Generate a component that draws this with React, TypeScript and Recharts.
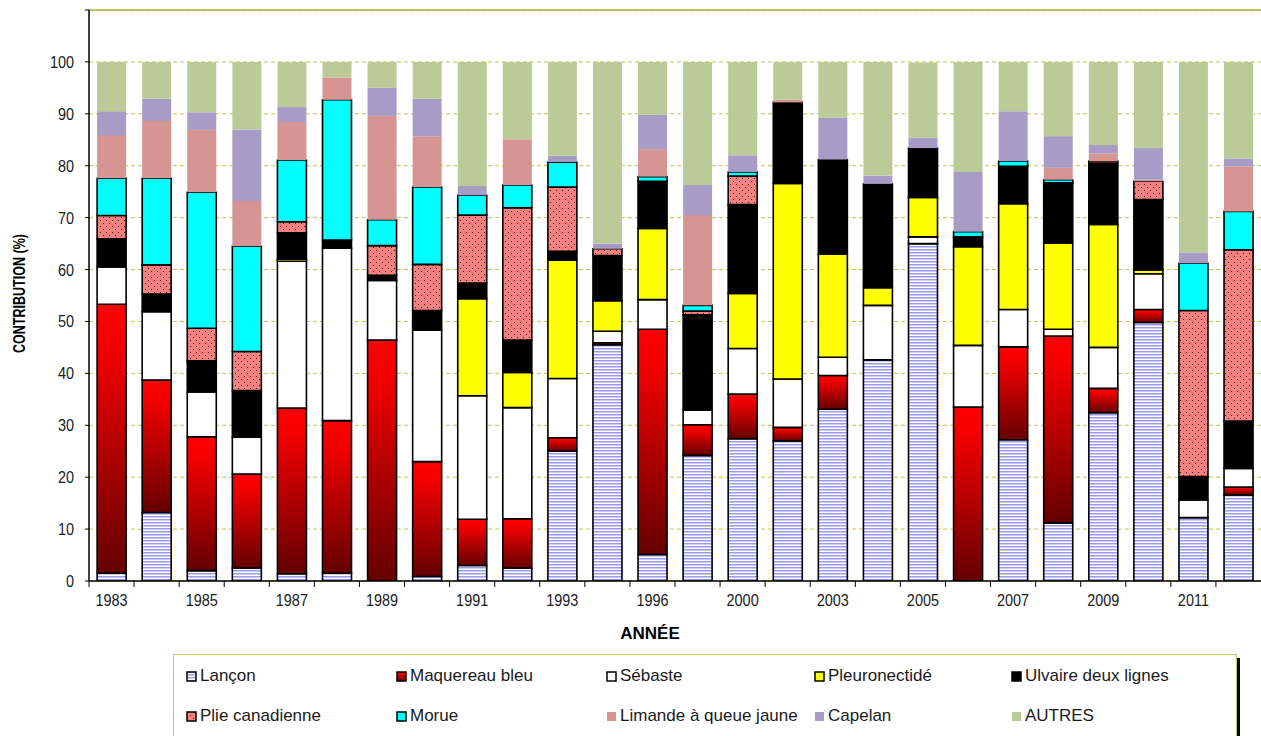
import React from 'react';
import { BarChart, Bar, XAxis, YAxis, CartesianGrid, ReferenceLine } from 'recharts';

const years = ['1983', '1984', '1985', '1986', '1987', '1988', '1989', '1990', '1991', '1992', '1993', '1995', '1996', '1998', '2000', '2002', '2003', '2004', '2005', '2006', '2007', '2008', '2009', '2010', '2011', '2012'];

const lancon = [1.5, 13.2, 2.0, 2.5, 1.4, 1.5, 0, 0.9, 3.0, 2.5, 25.0, 45.5, 5.1, 24.2, 27.4, 27.0, 33.1, 42.6, 65.0, 0, 27.2, 11.2, 32.4, 49.8, 12.2, 16.6];
const maquereau = [51.8, 25.5, 25.8, 18.1, 31.9, 29.4, 46.4, 22.1, 8.9, 9.5, 2.6, 0.4, 43.4, 5.9, 8.6, 2.6, 6.5, 0, 0, 33.5, 17.9, 36.0, 4.7, 2.5, 0, 1.5];
const sebaste = [7.2, 13.2, 8.6, 7.1, 28.3, 33.2, 11.5, 25.3, 23.8, 21.4, 11.4, 2.2, 5.7, 2.8, 8.8, 9.3, 3.5, 10.5, 1.3, 11.9, 7.2, 1.3, 7.9, 6.9, 3.4, 3.6];
const pleuronectide = [0, 0, 0, 0, 0.4, 0, 0, 0, 18.7, 6.8, 22.8, 5.9, 13.7, 0, 10.6, 37.7, 19.9, 3.4, 7.6, 19.0, 20.4, 16.6, 23.7, 0.7, 0, 0];
const ulvaire = [5.4, 3.4, 6.0, 9.0, 5.1, 1.6, 1.0, 3.8, 3.0, 6.2, 1.7, 8.7, 9.1, 18.4, 17.1, 15.6, 18.2, 20.0, 9.5, 1.9, 7.2, 11.6, 11.8, 13.6, 4.5, 9.1];
const plie = [4.5, 5.6, 6.3, 7.5, 2.1, 0, 5.7, 8.9, 13.1, 25.5, 12.4, 1.3, 0, 0.7, 5.5, 0, 0, 0, 0, 0, 0, 0, 0.4, 3.5, 32.0, 33.0];
const morue = [7.2, 16.7, 26.2, 20.3, 11.9, 27.0, 5.0, 14.9, 3.8, 4.4, 4.8, 0, 0.9, 1.1, 0.8, 0, 0, 0, 0, 1.0, 1.0, 0.6, 0, 0, 9.1, 7.4];
const limande = [8.3, 11.0, 12.0, 8.7, 7.3, 4.3, 20.0, 9.8, 0, 8.8, 0, 0, 5.3, 17.4, 0, 0.5, 0, 0, 0, 0, 0, 2.3, 1.5, 0.3, 0, 8.7];
const capelan = [4.6, 4.3, 3.4, 13.8, 2.9, 0, 5.4, 7.2, 1.8, 0, 1.2, 1.0, 6.6, 5.8, 3.2, 0, 8.1, 1.6, 2.0, 11.5, 9.6, 6.1, 1.6, 6.1, 2.1, 1.5];
const autres = [9.5, 7.1, 9.7, 13.0, 8.7, 3.0, 5.0, 7.1, 23.9, 14.9, 18.1, 35.0, 10.2, 23.7, 18.0, 7.3, 10.7, 21.9, 14.5, 21.2, 9.5, 14.3, 16.0, 16.6, 36.7, 18.6];

const yMajorTicks = [0, 10, 20, 30, 40, 50, 60, 70, 80, 90, 100, 110];
const yMinorTicks = [0, 5, 10, 15, 20, 25, 30, 35, 40, 45, 50, 55, 60, 65, 70, 75, 80, 85, 90, 95, 100, 105, 110];

const series = [
  { key: 'lancon', name: 'Lançon', values: lancon, fill: 'url(#lanconPattern)', stroke: '#000' },
  { key: 'maquereau', name: 'Maquereau bleu', values: maquereau, fill: 'url(#maqGradient)', stroke: '#000' },
  { key: 'sebaste', name: 'Sébaste', values: sebaste, fill: '#ffffff', stroke: '#000' },
  { key: 'pleuronectide', name: 'Pleuronectidé', values: pleuronectide, fill: '#ffff00', stroke: '#000' },
  { key: 'ulvaire', name: 'Ulvaire deux lignes', values: ulvaire, fill: '#000000', stroke: '#000' },
  { key: 'plie', name: 'Plie canadienne', values: plie, fill: 'url(#pliePattern)', stroke: '#000' },
  { key: 'morue', name: 'Morue', values: morue, fill: '#00ffff', stroke: '#000' },
  { key: 'limande', name: 'Limande à queue jaune', values: limande, fill: '#d69493', stroke: 'none' },
  { key: 'capelan', name: 'Capelan', values: capelan, fill: '#a79cc6', stroke: 'none' },
  { key: 'autres', name: 'AUTRES', values: autres, fill: '#bacb98', stroke: 'none' },
];

const data = years.map((year, i) => {
  const row: Record<string, any> = { year };
  series.forEach((s) => {
    row[s.key] = s.values[i];
  });
  return row;
});

const FONT = '"Liberation Sans", Arial, sans-serif';
const CHART_W = 1261;
const CHART_H = 736;
const Y_AXIS_W = 89;

const YTick = (props: any) => {
  const { x, y, payload } = props;
  if (payload.value > 100) return <g />;
  return (
    <text
      transform={`translate(${x},${y}) scale(0.85,1)`}
      textAnchor="end"
      dy={6}
      fontFamily={FONT}
      fontSize={17}
      fill="#1a1a1a"
    >
      {payload.value}
    </text>
  );
};

const XTick = (props: any) => {
  const { x, y, payload, index } = props;
  const plotW = CHART_W - Y_AXIS_W;
  const half = payload && payload.offset ? payload.offset : plotW / years.length / 2;
  return (
    <g>
      <line x1={x - half} x2={x - half} y1={y} y2={y + 6} stroke="#000" strokeWidth={1} />
      {index % 2 === 0 ? (
        <text
          transform={`translate(${x},${y + 25}) scale(0.85,1)`}
          textAnchor="middle"
          fontFamily={FONT}
          fontSize={17}
          fill="#1a1a1a"
        >
          {payload.value}
        </text>
      ) : null}
    </g>
  );
};

const YTitle = (props: any) => {
  const vb = props.viewBox || { x: 0, y: 0, width: 0, height: 0 };
  return (
    <text
      transform={`translate(${vb.x + 25},${vb.y + vb.height / 2 - 2}) rotate(-90) scale(0.76,1)`}
      textAnchor="middle"
      fontFamily={FONT}
      fontWeight={700}
      fontSize={16.5}
      fill="#000"
    >
      CONTRIBUTION (%)
    </text>
  );
};

const XTitle = (props: any) => {
  const vb = props.viewBox || { x: 0, y: 0, width: 0, height: 0 };
  return (
    <text
      x={vb.x + vb.width / 2 - 25}
      y={vb.y + 58}
      textAnchor="middle"
      fontFamily={FONT}
      fontWeight={700}
      fontSize={17}
      fill="#000"
    >
      ANNÉE
    </text>
  );
};

const legendCols = [12, 222, 432, 640, 837];
const legendRows = [21, 61];

const LegendBox = () => (
  <div
    style={{
      position: 'absolute',
      left: 173,
      top: 654,
      width: 1062,
      height: 100,
      border: '1px solid #bccb6a',
      boxShadow: '3px 4px 0 #000',
      background: '#fff',
      fontFamily: FONT,
      fontSize: 17,
      color: '#1a1a1a',
    }}
  >
    {series.map((s, i) => {
      const col = i % 5;
      const row = Math.floor(i / 5);
      return (
        <div
          key={s.key}
          style={{
            position: 'absolute',
            left: legendCols[col],
            top: legendRows[row] - 11,
            height: 22,
            display: 'flex',
            alignItems: 'center',
            whiteSpace: 'nowrap',
          }}
        >
          <svg width={11} height={11} style={{ marginRight: 3 }}>
            <rect
              x={1}
              y={1}
              width={9}
              height={9}
              fill={s.fill}
              stroke={s.stroke === 'none' ? 'none' : '#000'}
              strokeWidth={s.stroke === 'none' ? 0 : 1.5}
            />
          </svg>
          <span>{s.name}</span>
        </div>
      );
    })}
  </div>
);

export default function App() {
  return (
    <div style={{ position: 'absolute', left: 0, top: 0, width: CHART_W, height: CHART_H, overflow: 'hidden', background: '#fff' }}>
      <BarChart
        width={CHART_W}
        height={CHART_H}
        data={data}
        margin={{ top: 10, right: 0, left: 0, bottom: 95 }}
        barCategoryGap="18%"
      >
        <defs>
          <pattern id="lanconPattern" patternUnits="userSpaceOnUse" width={6} height={3}>
            <rect x={0} y={0} width={6} height={3} fill="#ffffff" />
            <rect x={0} y={0} width={6} height={1.5} fill="#9a9af2" />
          </pattern>
          <pattern id="pliePattern" patternUnits="userSpaceOnUse" width={6} height={6}>
            <rect x={0} y={0} width={6} height={6} fill="#f58080" />
            <rect x={1} y={1} width={1} height={1} fill="#4a1010" />
            <rect x={4} y={4} width={1} height={1} fill="#4a1010" />
          </pattern>
          <linearGradient id="maqGradient" x1="0" y1="0" x2="0" y2="1">
            <stop offset="0%" stopColor="#ff0000" />
            <stop offset="15%" stopColor="#f50000" />
            <stop offset="100%" stopColor="#640000" />
          </linearGradient>
        </defs>
        <CartesianGrid vertical={false} stroke="#c4c44a" strokeDasharray="4 3" />
        <XAxis
          dataKey="year"
          interval={0}
          tickSize={0}
          tickMargin={0}
          tickLine={false}
          axisLine={{ stroke: '#000', strokeWidth: 1.5 }}
          height={60}
          tick={<XTick />}
          label={<XTitle />}
        />
        <YAxis
          type="number"
          domain={[0, 110]}
          ticks={yMajorTicks}
          interval={0}
          width={Y_AXIS_W}
          tickSize={4}
          tickMargin={11}
          axisLine={{ stroke: '#000', strokeWidth: 1.5 }}
          tickLine={{ stroke: '#000' }}
          tick={<YTick />}
          label={<YTitle />}
          allowDataOverflow
        />
        <YAxis
          yAxisId="minor"
          type="number"
          mirror
          domain={[0, 110]}
          ticks={yMinorTicks}
          interval={0}
          width={0}
          tickSize={4}
          axisLine={false}
          tickLine={{ stroke: '#000' }}
          tick={() => <g />}
        />
        <ReferenceLine y={110} stroke="#a9b43e" strokeWidth={1.5} />
        {series.map((s) => (
          <Bar
            key={s.key}
            dataKey={s.key}
            name={s.name}
            stackId="a"
            fill={s.fill}
            stroke={s.stroke}
            strokeWidth={s.stroke === 'none' ? 0 : 1.6}
            isAnimationActive={false}
          />
        ))}
      </BarChart>
      <LegendBox />
    </div>
  );
}
